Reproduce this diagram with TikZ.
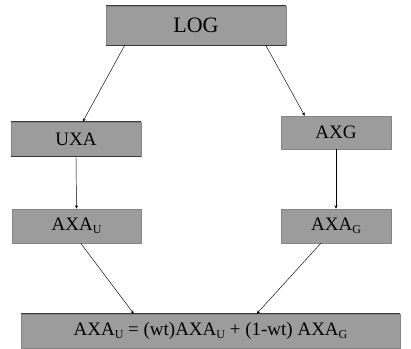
\documentclass[tikz,border=0pt]{standalone}
\usepackage{fontspec}
\setmainfont{Liberation Serif}
\usetikzlibrary{arrows.meta}
\definecolor{boxfill}{HTML}{9C9C9C}
\definecolor{boxedge}{HTML}{858585}
\definecolor{rule}{HTML}{3A3A3A}
\tikzset{
  stagebox/.style={rectangle, fill=boxfill, draw=boxedge, line width=0.5pt,
    inner sep=0pt, font=\fontsize{19}{21}\selectfont},
  darkrule/.style={draw=rule, line width=1.2pt},
  flow/.style={draw=black, line width=0.45pt,
    -{Stealth[length=3.5pt,width=3pt]}},
}
\newcommand{\lowsub}[1]{\raisebox{-0.35ex}{\fontsize{12}{12}\selectfont #1}}
\begin{document}
\begin{tikzpicture}[x=1pt,y=1pt]
  \useasboundingbox (0,0) rectangle (411,348);
  % boxes
  \node[stagebox, minimum width=180pt, minimum height=39pt,
        font=\fontsize{22}{24}\selectfont] (log) at (196,322.5) {LOG};
  \node[stagebox, minimum width=130pt, minimum height=34pt] (uxa) at (76,209) {UXA};
  \node[stagebox, minimum width=110pt, minimum height=33pt] (axg) at (336,215.5) {AXG};
  \node[stagebox, minimum width=129pt, minimum height=34pt] (axau) at (76.5,122) {AXA\lowsub{U}};
  \node[stagebox, minimum width=110pt, minimum height=34pt] (axag) at (336,122) {AXA\lowsub{G}};
  \node[stagebox, minimum width=379pt, minimum height=34pt] (blend) at (210.5,17)
    {AXA\lowsub{U} = (wt)AXA\lowsub{U} + (1-wt) AXA\lowsub{G}};
  % dark top and bottom edges
  \draw[darkrule] (log.north west) -- (log.north east);
  \draw[darkrule] (log.south west) -- (log.south east);
  \draw[darkrule] (uxa.north west) -- (uxa.north east);
  \draw[darkrule] (uxa.south west) -- (uxa.south east);
  \draw[darkrule] (blend.north west) -- (blend.north east);
  % connectors
  \draw[flow] ([xshift=19pt]log.south west) -- ([xshift=72pt]uxa.north west);
  \draw[flow] ([xshift=160pt]log.south west) -- ([xshift=24pt]axg.north west);
  \draw[flow] (uxa.south) -- (axau.north);
  \draw[flow] (axg.south) -- (axag.north);
  \draw[flow] ([xshift=69pt]axau.south west) -- ([xshift=113pt]blend.north west);
  \draw[flow] ([xshift=40pt]axag.south west) -- ([xshift=236pt]blend.north west);
\end{tikzpicture}
\end{document}
